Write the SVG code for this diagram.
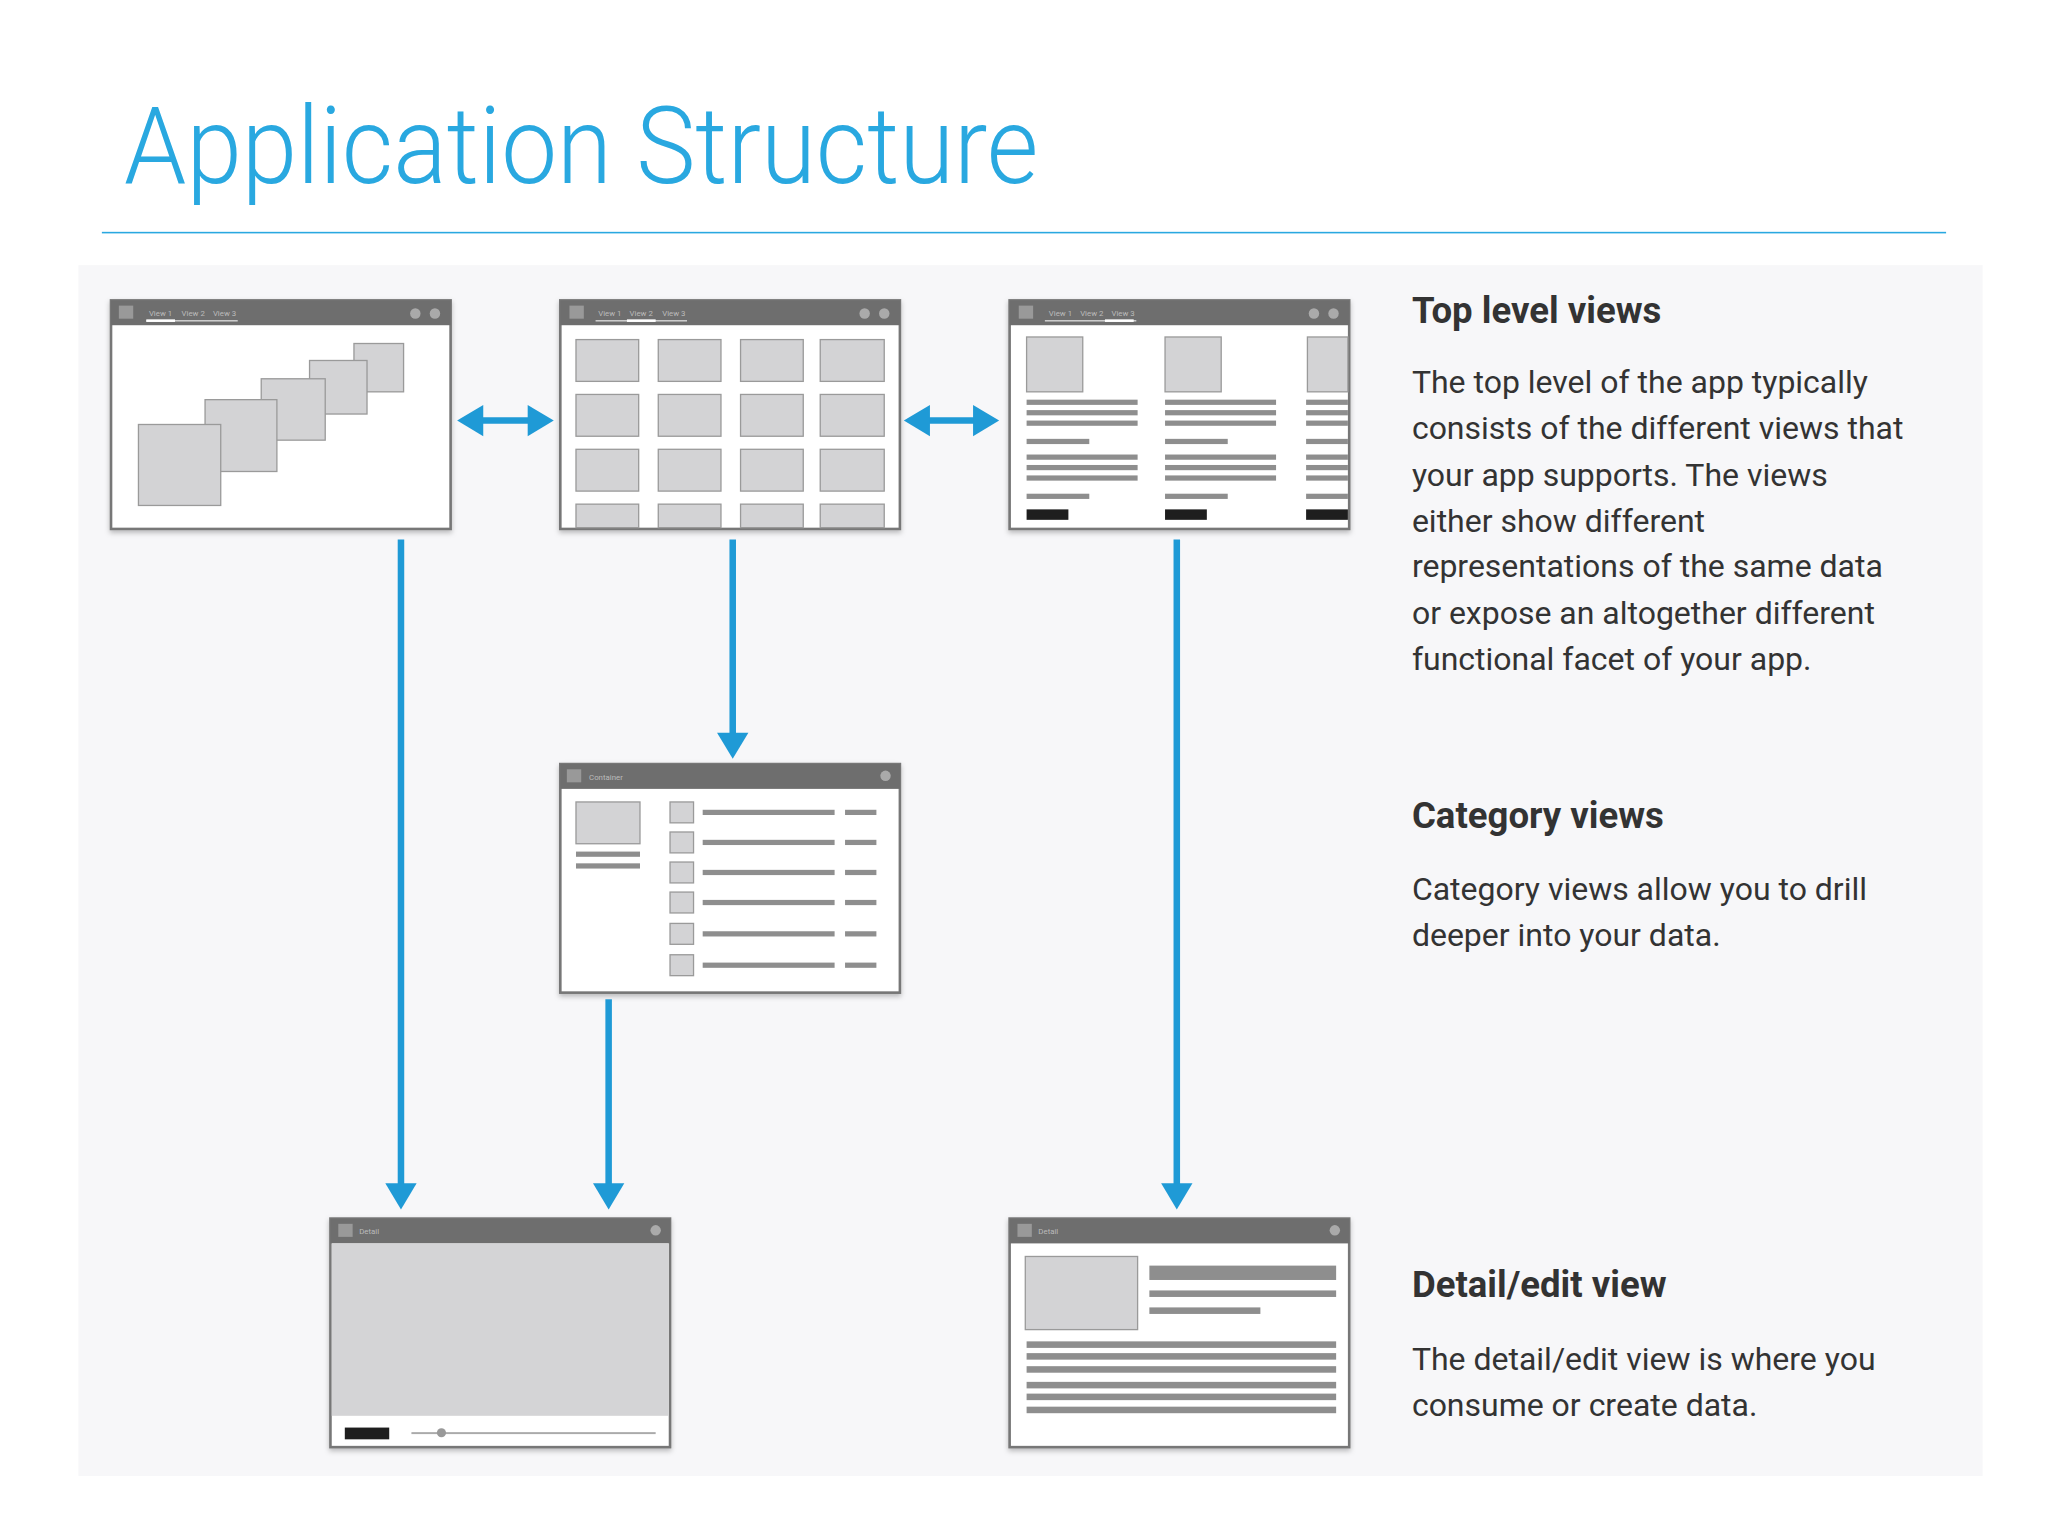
<svg xmlns="http://www.w3.org/2000/svg" width="2048" height="1536" viewBox="0 0 2048 1536">
<defs>
<style>
.fr{fill:#fff;stroke:#777;stroke-width:2}
.tb{fill:#6e6e6e}
.sq{fill:#d3d3d5;stroke:#9a9a9a;stroke-width:1}
.ln{fill:#8e8e8e}
.blk{fill:#1e1e1e}
.con{stroke:#1f9ad6;stroke-width:5;fill:none}
.ah{fill:#1f9ad6}
.tt{font-family:Roboto,'Liberation Sans',sans-serif;font-size:6px;fill:#bbb}
.h{font-family:Roboto,'Liberation Sans',sans-serif;font-size:28px;font-weight:bold;fill:#333}
.b{font-family:Roboto,'Liberation Sans',sans-serif;font-size:24.5px;fill:#333}
.dot{fill:#aaa}
</style>
<filter id="sh" x="-5%" y="-5%" width="110%" height="115%"><feDropShadow dx="0" dy="2" stdDeviation="2" flood-opacity="0.25"/></filter>
</defs>
<rect width="2048" height="1536" fill="#fff"/>
<g transform="scale(1.3061)">
<text x="95" y="140" font-family="Roboto,'Liberation Sans',sans-serif" font-weight="300" font-size="82" fill="#29a8e0" textLength="700" lengthAdjust="spacingAndGlyphs">Application Structure</text>
<rect x="78" y="177.5" width="1412" height="1.2" fill="#29a8e0"/>
<rect x="60" y="203" width="1458" height="927" fill="#f7f7f9"/>

<g id="frame-top1">
<rect class="fr" x="85" y="230" width="260" height="175" filter="url(#sh)"/>
<rect class="tb" x="85" y="230" width="260" height="19"/>
<rect x="91" y="234" width="11" height="10" fill="#999"/>
<text class="tt" x="114" y="242">View 1</text><text class="tt" x="139" y="242">View 2</text><text class="tt" x="163" y="242">View 3</text>
<rect x="112" y="245" width="70" height="1.2" fill="#ccc"/><rect x="112" y="244.5" width="22" height="2" fill="#fff"/>
<circle class="dot" cx="318" cy="240" r="4"/><circle class="dot" cx="333" cy="240" r="4"/>
<rect class="sq" x="271" y="263" width="38" height="37"/>
<rect class="sq" x="237" y="276" width="44" height="41"/>
<rect class="sq" x="200" y="290" width="49" height="47"/>
<rect class="sq" x="157" y="306" width="55" height="55"/>
<rect class="sq" x="106" y="325" width="63" height="62"/>
</g>

<g id="frame-top2">
<rect class="fr" x="429" y="230" width="260" height="175" filter="url(#sh)"/>
<rect class="tb" x="429" y="230" width="260" height="19"/>
<rect x="436" y="234" width="11" height="10" fill="#999"/>
<text class="tt" x="458" y="242">View 1</text><text class="tt" x="482" y="242">View 2</text><text class="tt" x="507" y="242">View 3</text>
<rect x="456" y="245" width="70" height="1.2" fill="#ccc"/><rect x="480" y="244.5" width="22" height="2" fill="#fff"/>
<circle class="dot" cx="662" cy="240" r="4"/><circle class="dot" cx="677" cy="240" r="4"/>
<g>
<rect class="sq" x="441" y="260" width="48" height="32"/><rect class="sq" x="504" y="260" width="48" height="32"/><rect class="sq" x="567" y="260" width="48" height="32"/><rect class="sq" x="628" y="260" width="49" height="32"/>
<rect class="sq" x="441" y="302" width="48" height="32"/><rect class="sq" x="504" y="302" width="48" height="32"/><rect class="sq" x="567" y="302" width="48" height="32"/><rect class="sq" x="628" y="302" width="49" height="32"/>
<rect class="sq" x="441" y="344" width="48" height="32"/><rect class="sq" x="504" y="344" width="48" height="32"/><rect class="sq" x="567" y="344" width="48" height="32"/><rect class="sq" x="628" y="344" width="49" height="32"/>
<rect class="sq" x="441" y="386" width="48" height="18"/><rect class="sq" x="504" y="386" width="48" height="18"/><rect class="sq" x="567" y="386" width="48" height="18"/><rect class="sq" x="628" y="386" width="49" height="18"/>
</g>
</g>

<g id="frame-top3">
<rect class="fr" x="773" y="230" width="260" height="175" filter="url(#sh)"/>
<rect class="tb" x="773" y="230" width="260" height="19"/>
<rect x="780" y="234" width="11" height="10" fill="#999"/>
<text class="tt" x="803" y="242">View 1</text><text class="tt" x="827" y="242">View 2</text><text class="tt" x="851" y="242">View 3</text>
<rect x="800" y="245" width="70" height="1.2" fill="#ccc"/><rect x="846" y="244.5" width="22" height="2" fill="#fff"/>
<circle class="dot" cx="1006" cy="240" r="4"/><circle class="dot" cx="1021" cy="240" r="4"/>
<g>
<rect class="sq" x="786" y="258" width="43" height="42"/>
<rect class="ln" x="786" y="306" width="85" height="4"/><rect class="ln" x="786" y="314" width="85" height="4"/><rect class="ln" x="786" y="322" width="85" height="4"/><rect class="ln" x="786" y="336" width="48" height="4"/>
<rect class="ln" x="786" y="348" width="85" height="4"/><rect class="ln" x="786" y="356" width="85" height="4"/><rect class="ln" x="786" y="364" width="85" height="4"/><rect class="ln" x="786" y="378" width="48" height="4"/>
<rect class="blk" x="786" y="390" width="32" height="8"/>
</g>
<g>
<rect class="sq" x="892" y="258" width="43" height="42"/>
<rect class="ln" x="892" y="306" width="85" height="4"/><rect class="ln" x="892" y="314" width="85" height="4"/><rect class="ln" x="892" y="322" width="85" height="4"/><rect class="ln" x="892" y="336" width="48" height="4"/>
<rect class="ln" x="892" y="348" width="85" height="4"/><rect class="ln" x="892" y="356" width="85" height="4"/><rect class="ln" x="892" y="364" width="85" height="4"/><rect class="ln" x="892" y="378" width="48" height="4"/>
<rect class="blk" x="892" y="390" width="32" height="8"/>
</g>
<g>
<rect class="sq" x="1001" y="258" width="31" height="42"/>
<rect class="ln" x="1000" y="306" width="32" height="4"/><rect class="ln" x="1000" y="314" width="32" height="4"/><rect class="ln" x="1000" y="322" width="32" height="4"/><rect class="ln" x="1000" y="336" width="32" height="4"/>
<rect class="ln" x="1000" y="348" width="32" height="4"/><rect class="ln" x="1000" y="356" width="32" height="4"/><rect class="ln" x="1000" y="364" width="32" height="4"/><rect class="ln" x="1000" y="378" width="32" height="4"/>
<rect class="blk" x="1000" y="390" width="32" height="8"/>
</g>
</g>

<g id="frame-category">
<rect class="fr" x="429" y="585" width="260" height="175" filter="url(#sh)"/>
<rect class="tb" x="429" y="585" width="260" height="19"/>
<rect x="434" y="589" width="11" height="10" fill="#999"/>
<text class="tt" x="451" y="597">Container</text>
<circle class="dot" cx="678" cy="594" r="4"/>
<rect class="sq" x="441" y="614" width="49" height="32"/>
<rect class="ln" x="441" y="652" width="49" height="4"/><rect class="ln" x="441" y="661" width="49" height="4"/>
<rect class="sq" x="513" y="614" width="18" height="16"/><rect class="ln" x="538" y="620" width="101" height="4"/><rect class="ln" x="647" y="620" width="24" height="4"/>
<rect class="sq" x="513" y="637" width="18" height="16"/><rect class="ln" x="538" y="643" width="101" height="4"/><rect class="ln" x="647" y="643" width="24" height="4"/>
<rect class="sq" x="513" y="660" width="18" height="16"/><rect class="ln" x="538" y="666" width="101" height="4"/><rect class="ln" x="647" y="666" width="24" height="4"/>
<rect class="sq" x="513" y="683" width="18" height="16"/><rect class="ln" x="538" y="689" width="101" height="4"/><rect class="ln" x="647" y="689" width="24" height="4"/>
<rect class="sq" x="513" y="707" width="18" height="16"/><rect class="ln" x="538" y="713" width="101" height="4"/><rect class="ln" x="647" y="713" width="24" height="4"/>
<rect class="sq" x="513" y="731" width="18" height="16"/><rect class="ln" x="538" y="737" width="101" height="4"/><rect class="ln" x="647" y="737" width="24" height="4"/>
</g>

<g id="frame-media">
<rect class="fr" x="253" y="933" width="260" height="175" filter="url(#sh)"/>
<rect class="tb" x="253" y="933" width="260" height="19"/>
<rect x="259" y="937" width="11" height="10" fill="#999"/>
<text class="tt" x="275" y="945">Detail</text>
<circle class="dot" cx="502" cy="942" r="4"/>
<rect x="254" y="952" width="258" height="132" fill="#d4d4d6"/>
<rect class="blk" x="264" y="1093" width="34" height="9"/>
<rect x="315" y="1096.5" width="187" height="1.5" fill="#aaa"/>
<circle cx="338" cy="1097" r="3.5" fill="#999"/>
</g>

<g id="frame-detail">
<rect class="fr" x="773" y="933" width="260" height="175" filter="url(#sh)"/>
<rect class="tb" x="773" y="933" width="260" height="19"/>
<rect x="779" y="937" width="11" height="10" fill="#999"/>
<text class="tt" x="795" y="945">Detail</text>
<circle class="dot" cx="1022" cy="942" r="4"/>
<rect class="sq" x="785" y="962" width="86" height="56"/>
<rect class="ln" x="880" y="969" width="143" height="11"/>
<rect class="ln" x="880" y="988" width="143" height="5"/>
<rect class="ln" x="880" y="1001" width="85" height="5"/>
<rect class="ln" x="786" y="1027" width="237" height="5"/>
<rect class="ln" x="786" y="1036" width="237" height="5"/>
<rect class="ln" x="786" y="1046" width="237" height="5"/>
<rect class="ln" x="786" y="1058" width="237" height="5"/>
<rect class="ln" x="786" y="1067" width="237" height="5"/>
<rect class="ln" x="786" y="1077" width="237" height="5"/>
</g>

<g id="connectors">
<line class="con" x1="366" y1="322" x2="408" y2="322"/>
<polygon class="ah" points="350,322 370,310 370,334"/><polygon class="ah" points="424,322 404,310 404,334"/>
<line class="con" x1="708" y1="322" x2="749" y2="322"/>
<polygon class="ah" points="692,322 712,310 712,334"/><polygon class="ah" points="765,322 745,310 745,334"/>
<line class="con" x1="307" y1="413" x2="307" y2="910"/><polygon class="ah" points="307,926 295,906 319,906"/>
<line class="con" x1="561" y1="413" x2="561" y2="565"/><polygon class="ah" points="561,581 549,561 573,561"/>
<line class="con" x1="466" y1="765" x2="466" y2="910"/><polygon class="ah" points="466,926 454,906 478,906"/>
<line class="con" x1="901" y1="413" x2="901" y2="910"/><polygon class="ah" points="901,926 889,906 913,906"/>
</g>

<g id="text">
<text class="h" x="1081" y="247">Top level views</text>
<text class="b" x="1081" y="301">The top level of the app typically</text>
<text class="b" x="1081" y="336">consists of the different views that</text>
<text class="b" x="1081" y="372">your app supports. The views</text>
<text class="b" x="1081" y="407">either show different</text>
<text class="b" x="1081" y="442">representations of the same data</text>
<text class="b" x="1081" y="478">or expose an altogether different</text>
<text class="b" x="1081" y="513">functional facet of your app.</text>
<text class="h" x="1081" y="634">Category views</text>
<text class="b" x="1081" y="689">Category views allow you to drill</text>
<text class="b" x="1081" y="724">deeper into your data.</text>
<text class="h" x="1081" y="993">Detail/edit view</text>
<text class="b" x="1081" y="1049">The detail/edit view is where you</text>
<text class="b" x="1081" y="1084">consume or create data.</text>
</g>
</g>
</svg>
